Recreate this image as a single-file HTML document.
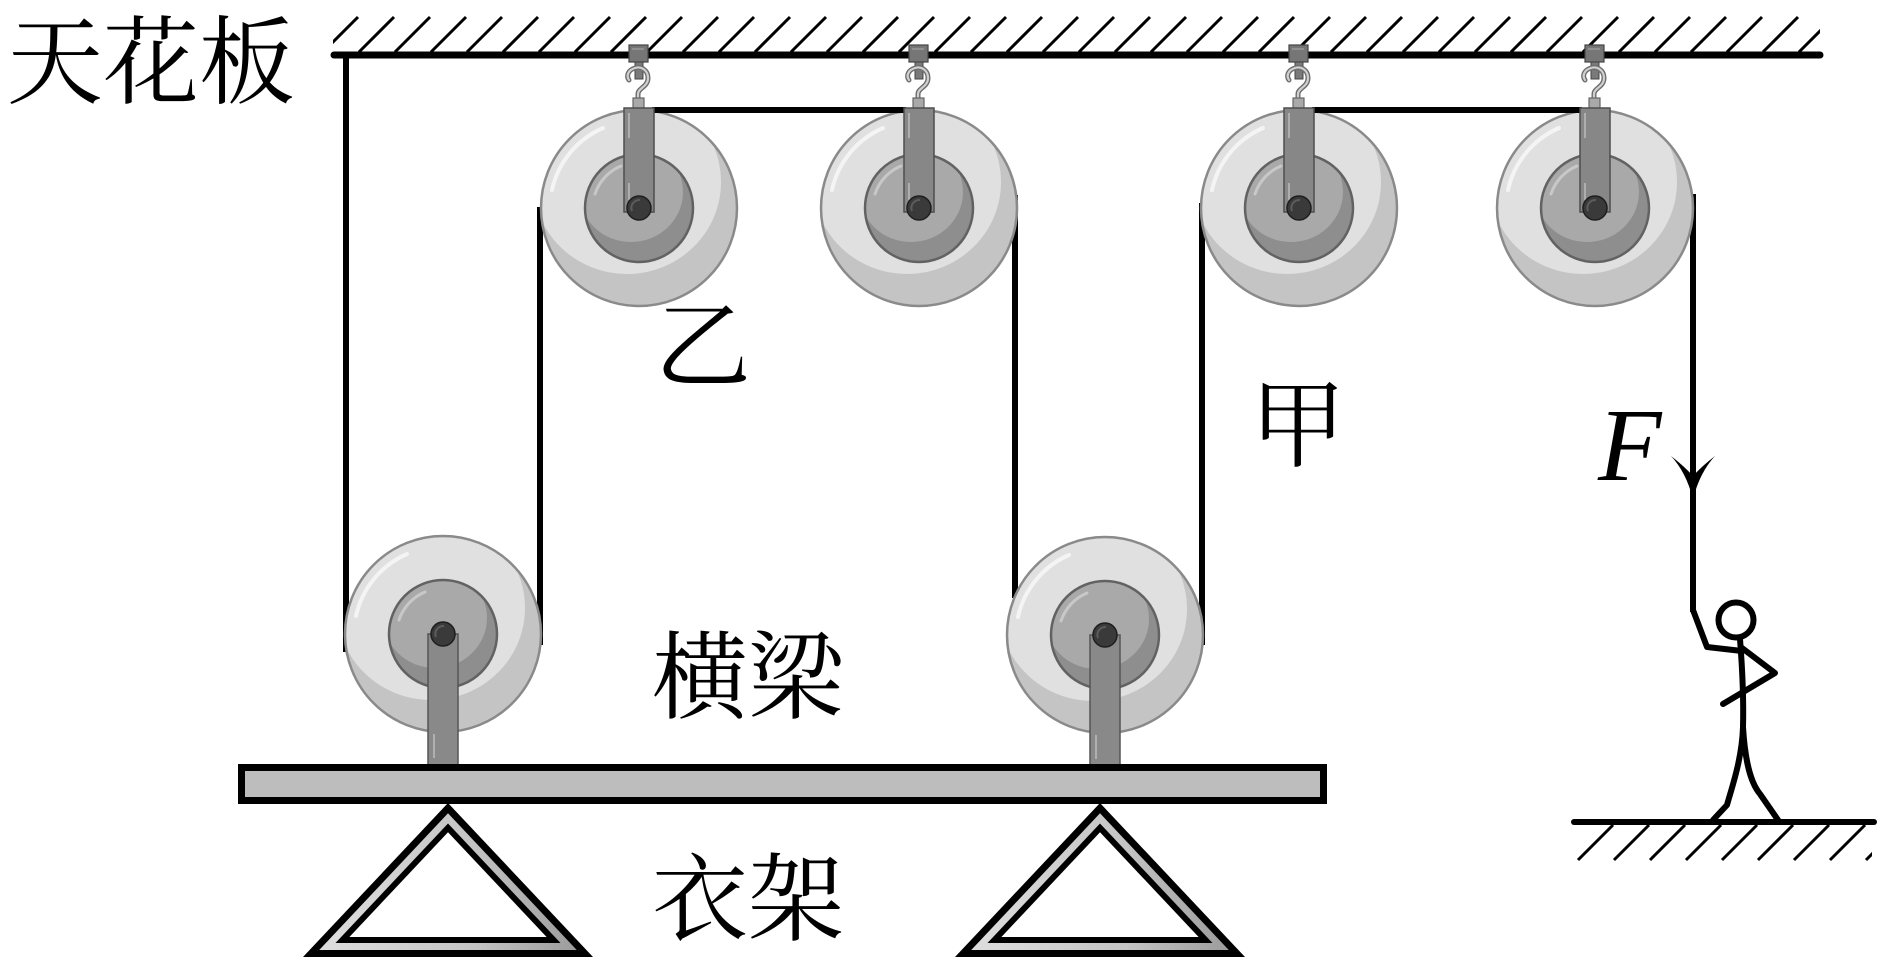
<!DOCTYPE html>
<html>
<head>
<meta charset="utf-8">
<style>
  html,body{margin:0;padding:0;background:#fff;}
  svg{display:block;}
  .cjk{font-family:"Liberation Serif","Noto Serif CJK SC",serif;font-size:96px;fill:#000;}
</style>
</head>
<body>
<svg width="1888" height="969" viewBox="0 0 1888 969" xmlns="http://www.w3.org/2000/svg">
  <defs>
    <clipPath id="co"><circle r="97"/></clipPath>
    <clipPath id="ci"><circle r="53"/></clipPath>
    <clipPath id="ceilClip"><rect x="333" y="12" width="1487" height="42"/></clipPath>
    <clipPath id="groundClip"><rect x="1573" y="823" width="299" height="40"/></clipPath>
    <linearGradient id="band" x1="0" y1="0" x2="1" y2="0">
      <stop offset="0" stop-color="#dedede"/>
      <stop offset="0.6" stop-color="#c4c4c4"/>
      <stop offset="1" stop-color="#9c9c9c"/>
    </linearGradient>
    <g id="wheel">
      <circle r="98" fill="#c4c4c4"/>
      <g clip-path="url(#co)"><ellipse cx="-12" cy="-26" rx="94" ry="92" fill="#e0e0e0"/></g>
      <path d="M-87 -18 A88 88 0 0 1 -36 -80" fill="none" stroke="#f4f4f4" stroke-width="4" stroke-linecap="round"/>
      <circle r="98" fill="none" stroke="#8a8a8a" stroke-width="2.5"/>
      <circle r="54" fill="#8e8e8e"/>
      <g clip-path="url(#ci)"><ellipse cx="-8" cy="-16" rx="52" ry="50" fill="#a9a9a9"/></g>
      <path d="M-44 -14 A46 46 0 0 1 -18 -42" fill="none" stroke="#c8c8c8" stroke-width="3" stroke-linecap="round"/>
      <circle r="54" fill="none" stroke="#626262" stroke-width="2.5"/>
    </g>
    <g id="axle">
      <circle r="12" fill="#3a3a3a" stroke="#1e1e1e" stroke-width="1.5"/>
      <path d="M-7 3 A8 8 0 0 1 1 -8" fill="none" stroke="#5c5c5c" stroke-width="2"/>
    </g>
    <g id="hang">
      <rect x="-10" y="-163" width="19" height="17" fill="#767676" stroke="#444" stroke-width="1.2"/>
      <line x1="-7" y1="-159" x2="5" y2="-159" stroke="#9a9a9a" stroke-width="1.5"/>
      <rect x="-4" y="-146" width="8" height="17" fill="#7a7a7a" stroke="#444" stroke-width="1"/>
      <path d="M-1 -108 L-1 -114 C-1 -120 9 -121 9 -130 C9 -138 2 -142 -4 -140 C-11 -138 -13 -132 -10 -128" stroke="#6e6e6e" stroke-width="5" fill="none" stroke-linecap="round"/>
      <path d="M-1 -108 L-1 -114 C-1 -120 9 -121 9 -130 C9 -138 2 -142 -4 -140 C-11 -138 -13 -132 -10 -128" stroke="#d0d0d0" stroke-width="2.2" fill="none" stroke-linecap="round"/>
      <rect x="-6" y="-110" width="11" height="13" fill="#a9a9a9" stroke="#666" stroke-width="1.2"/>
      <rect x="-15" y="-100" width="30" height="104" fill="#878787" stroke="#4e4e4e" stroke-width="1.5"/>
      <line x1="-10" y1="-95" x2="-10" y2="-70" stroke="#aeaeae" stroke-width="2"/>
      <line x1="-10" y1="-25" x2="-10" y2="-8" stroke="#aeaeae" stroke-width="2"/>
    </g>
    <g id="post">
      <rect x="-15" y="0" width="30" height="136" fill="#898989" stroke="#555" stroke-width="1.5"/>
      <line x1="-9" y1="100" x2="-9" y2="124" stroke="#b0b0b0" stroke-width="2"/>
    </g>
  </defs>

  <!-- ceiling -->
  <g clip-path="url(#ceilClip)" stroke="#000" stroke-width="3" fill="none">
    <path d="M323 52l35 -35M359 52l35 -35M395 52l35 -35M431 52l35 -35M467 52l35 -35M503 52l35 -35M539 52l35 -35M575 52l35 -35M611 52l35 -35M647 52l35 -35M683 52l35 -35M719 52l35 -35M755 52l35 -35M791 52l35 -35M827 52l35 -35M863 52l35 -35M899 52l35 -35M935 52l35 -35M971 52l35 -35M1007 52l35 -35M1043 52l35 -35M1079 52l35 -35M1115 52l35 -35M1151 52l35 -35M1187 52l35 -35M1223 52l35 -35M1259 52l35 -35M1295 52l35 -35M1331 52l35 -35M1367 52l35 -35M1403 52l35 -35M1439 52l35 -35M1475 52l35 -35M1511 52l35 -35M1547 52l35 -35M1583 52l35 -35M1619 52l35 -35M1655 52l35 -35M1691 52l35 -35M1727 52l35 -35M1763 52l35 -35M1799 52l35 -35"/>
  </g>
  <line x1="334" y1="55" x2="1820" y2="55" stroke="#000" stroke-width="7" stroke-linecap="round"/>

  <!-- vertical ropes -->
  <g stroke="#000" stroke-width="6" fill="none">
    <line x1="346" y1="55" x2="346" y2="652"/>
    <line x1="540" y1="207" x2="540" y2="645"/>
    <line x1="1015" y1="195" x2="1015" y2="598"/>
    <line x1="1202" y1="203" x2="1202" y2="645"/>
    <line x1="1693" y1="194" x2="1693" y2="612"/>
  </g>

  <!-- wheels -->
  <use href="#wheel" x="639" y="208"/>
  <use href="#wheel" x="919" y="208"/>
  <use href="#wheel" x="1299" y="208"/>
  <use href="#wheel" x="1595" y="208"/>
  <use href="#wheel" x="443" y="634"/>
  <use href="#wheel" x="1105" y="635"/>

  <!-- top horizontal ropes -->
  <g stroke="#000" stroke-width="6">
    <line x1="652" y1="110" x2="906" y2="110"/>
    <line x1="1312" y1="110" x2="1582" y2="110"/>
  </g>

  <!-- hangers -->
  <use href="#hang" x="639" y="208"/>
  <use href="#hang" x="919" y="208"/>
  <use href="#hang" x="1299" y="208"/>
  <use href="#hang" x="1595" y="208"/>

  <!-- posts -->
  <use href="#post" x="443" y="634"/>
  <use href="#post" x="1105" y="635"/>

  <!-- axles -->
  <use href="#axle" x="639" y="208"/>
  <use href="#axle" x="919" y="208"/>
  <use href="#axle" x="1299" y="208"/>
  <use href="#axle" x="1595" y="208"/>
  <use href="#axle" x="443" y="634"/>
  <use href="#axle" x="1105" y="635"/>

  <!-- beam -->
  <rect x="241.5" y="767.5" width="1082" height="33" fill="#bdbdbd" stroke="#000" stroke-width="7"/>

  <!-- stands -->
  <g>
    <polygon points="448,803 303,957 593,957" fill="#000"/>
    <polygon points="448,803 303,957 593,957" fill="url(#band)" transform="translate(448 894.4) scale(0.888) translate(-448 -894.4)"/>
    <polygon points="448,803 303,957 593,957" fill="#000" transform="translate(448 894.4) scale(0.776) translate(-448 -894.4)"/>
    <polygon points="448,803 303,957 593,957" fill="#fff" transform="translate(448 894.4) scale(0.68) translate(-448 -894.4)"/>
  </g>
  <g>
    <polygon points="1100,803 955,957 1245,957" fill="#000"/>
    <polygon points="1100,803 955,957 1245,957" fill="url(#band)" transform="translate(1100 894.4) scale(0.888) translate(-1100 -894.4)"/>
    <polygon points="1100,803 955,957 1245,957" fill="#000" transform="translate(1100 894.4) scale(0.776) translate(-1100 -894.4)"/>
    <polygon points="1100,803 955,957 1245,957" fill="#fff" transform="translate(1100 894.4) scale(0.68) translate(-1100 -894.4)"/>
  </g>

  <!-- labels -->
  <text class="cjk" x="7" y="96">天花板</text>
  <text class="cjk" x="655" y="380">乙</text>
  <text class="cjk" x="1250" y="459">甲</text>
  <text class="cjk" x="652" y="711">横梁</text>
  <text class="cjk" x="652" y="933">衣架</text>
  <text x="1598" y="480" font-family="Liberation Serif, serif" font-style="italic" font-size="104" fill="#000">F</text>

  <!-- arrow -->
  <path d="M1693 499 Q1686 472 1671 456 Q1684 466 1693 476 Q1702 466 1715 456 Q1700 472 1693 499 Z" fill="#000"/>

  <!-- stick man -->
  <g stroke="#000" stroke-width="6" fill="none" stroke-linecap="round" stroke-linejoin="round">
    <path d="M1693 610 L1707 647 L1742 651"/>
    <circle cx="1736" cy="620" r="17.5"/>
    <path d="M1740 639 Q1744 690 1743 727"/>
    <path d="M1742 648 L1775 673 L1723 704"/>
    <path d="M1743 727 C1742 760 1731 790 1727 805 L1713 820"/>
    <path d="M1743 727 C1745 760 1750 782 1760 794 L1778 820"/>
  </g>

  <!-- ground -->
  <line x1="1574" y1="822" x2="1874" y2="822" stroke="#000" stroke-width="6" stroke-linecap="round"/>
  <g clip-path="url(#groundClip)" stroke="#000" stroke-width="3" fill="none">
    <path d="M1578 860l35 -35M1614 860l35 -35M1650 860l35 -35M1686 860l35 -35M1722 860l35 -35M1758 860l35 -35M1794 860l35 -35M1830 860l35 -35M1866 860l35 -35"/>
  </g>
</svg>
</body>
</html>
